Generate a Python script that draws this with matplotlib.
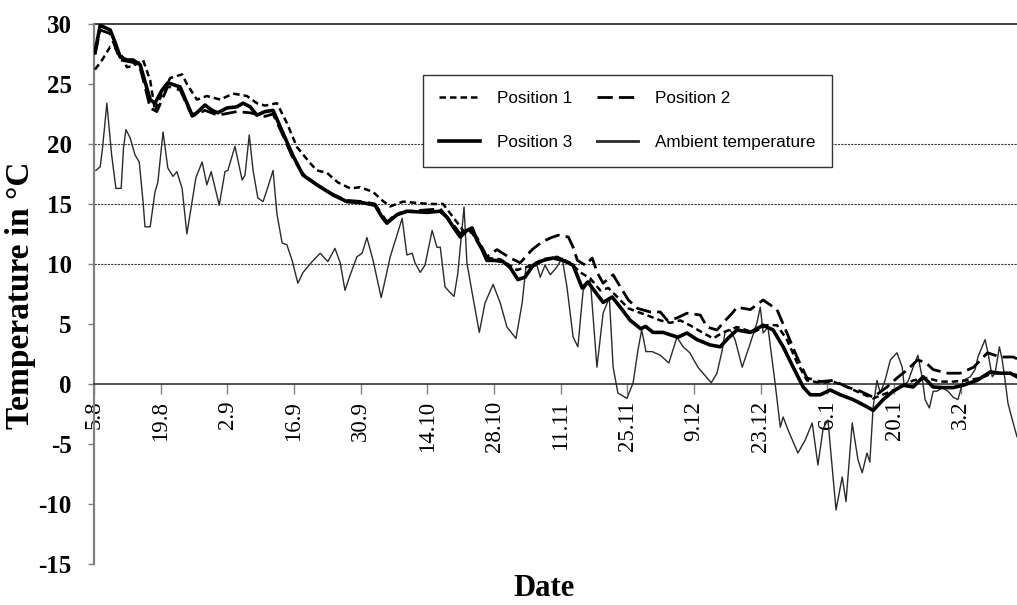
import matplotlib
matplotlib.use("Agg")
import matplotlib.pyplot as plt

plt.rcParams["axes.unicode_minus"] = False

# ---- data (x = days after 5 August) ----
tick_days = [0, 14, 28, 42, 56, 70, 84, 98, 112, 126, 140, 154, 168, 182]
tick_labels = ["5.8", "19.8", "2.9", "16.9", "30.9", "14.10", "28.10", "11.11",
               "25.11", "9.12", "23.12", "6.1", "20.1", "3.2"]
y_ticks = [-15, -10, -5, 0, 5, 10, 15, 20, 25, 30]

amb_days = [0.4, 1.3, 1.8, 2.7, 3.7, 4.6, 5.7, 6.2, 6.7, 7.6, 8.6, 9.5, 10.3, 10.7, 11.8,
            12.8, 13.4, 14.5, 15.5, 16.6, 17.4, 18.5, 19.5, 21.4, 22.7, 23.7, 24.6, 26.3,
            27.5, 28.1, 29.6, 31.1, 31.7, 32.6, 33.4, 34.4, 35.5, 36.5, 37.6, 38.4, 39.5,
            40.5, 41.6, 42.8, 43.9, 45.8, 47.5, 49.1, 50.6, 51.7, 52.7, 53.8, 55.2, 56.3,
            57.3, 58.6, 60.3, 62.2, 64.7, 65.7, 66.8, 67.4, 68.5, 69.5, 71.0, 72.0, 72.7,
            73.7, 74.8, 75.6, 76.4, 77.7, 78.3, 79.4, 80.9, 82.1, 83.8, 85.3, 86.7, 88.6,
            89.9, 90.7, 92.0, 93.0, 93.7, 94.7, 95.8, 97.2, 98.3, 99.3, 100.6, 101.6,
            102.7, 104.2, 105.6, 106.9, 108.2, 109.0, 110.0, 111.9, 113.2, 114.2, 115.0,
            115.9, 117.2, 118.9, 120.7, 122.4, 123.7, 125.1, 126.8, 129.6, 130.8, 131.9,
            132.5, 133.6, 134.6, 136.1, 137.8, 139.2, 139.9, 140.5, 141.5, 143.0, 144.1,
            144.7, 145.7, 147.8, 149.3, 150.8, 152.0, 153.1, 154.1, 155.8, 157.1, 157.9,
            159.2, 160.4, 161.3, 162.3, 162.9, 163.6, 164.4, 165.1, 166.1, 167.2, 168.6,
            169.7, 170.1, 170.9, 172.0, 173.0, 173.9, 174.5, 175.4, 176.2, 177.0, 178.1,
            179.3, 180.4, 181.4, 182.5, 184.0, 185.0, 185.6, 187.1, 187.7, 188.6, 189.2,
            190.1, 190.7, 191.3, 191.9, 193.0, 193.8]
amb_temp = [17.8, 18.1, 19.7, 23.4, 19.1, 16.3, 16.3, 19.7, 21.2, 20.5, 19.1, 18.5, 15.2, 13.1,
            13.1, 16.0, 16.8, 21.0, 18.0, 17.3, 17.7, 16.3, 12.5, 17.2, 18.5, 16.6, 17.7, 14.9,
            17.7, 17.8, 19.8, 17.0, 17.4, 20.75, 17.8, 15.5, 15.2, 16.4, 17.8, 14.2, 11.75,
            11.6, 10.3, 8.4, 9.3, 10.2, 10.9, 10.2, 11.3, 10.1, 7.8, 9.1, 10.6, 10.9,
            12.2, 10.3, 7.2, 10.6, 13.8, 10.75, 10.9, 10.1, 9.3, 9.9, 12.8, 11.4, 11.4,
            8.1, 7.6, 7.3, 9.25, 14.75, 10.1, 7.6, 4.3, 6.75, 8.3, 6.75, 4.75, 3.8,
            6.75, 9.75, 9.7, 9.9, 8.9, 9.9, 9.1, 9.75, 10.5, 8.1, 3.9, 3.1,
            7.8, 8.7, 1.4, 5.9, 7.2, 1.4, -0.75, -1.2, 0.1, 2.8, 4.5,
            2.7, 2.7, 2.4, 1.75, 3.9, 3.1, 2.6, 1.4, 0.1, 0.9, 2.8,
            4.3, 4.5, 3.7, 1.4, 3.4, 5.1, 6.4, 4.25, 4.75, 0.1, -3.6,
            -2.75, -3.8, -5.75, -4.7, -3.25, -6.75, -3.7, -3.0, -10.5, -7.75, -9.8,
            -3.25, -6.3, -7.4, -5.75, -6.5, -1.9, 0.3, -0.75, 0.3, 2.0, 2.6,
            1.4, -0.1, 0.2, 1.4, 2.4, 0.5, -1.3, -2.0, -0.6, -0.6, -0.3,
            -0.6, -1.1, -1.3, 0.3, 0.6, 1.2, 2.25, 3.7, 2.6, 0.6, 0.9,
            3.1, 2.0, 0.3, -1.6, -3.25, -4.4]

p1_days = [0.2, 1.7, 3.4, 4.4, 6.1, 6.9, 8.2, 10.3, 11.8, 12.8, 14.3, 16.0, 18.5, 19.5, 21.6,
           23.7, 26.5, 29.2, 32.1, 34.2, 35.9, 38.4, 40.5, 42.6, 45.4, 46.8, 48.9, 51.2,
           53.8, 55.9, 58.6, 60.5, 62.2, 64.9, 67.4, 70.6, 73.3, 75.4, 77.5, 79.4, 82.5,
           85.3, 88.8, 90.9, 94.3, 97.2, 100.0, 102.1, 104.2, 106.3, 108.0, 110.0, 112.2,
           114.2, 116.3, 118.9, 121.0, 123.1, 125.1, 127.9, 130.0, 132.1, 135.0, 138.4,
           141.3, 143.4, 145.5, 147.6, 149.7, 152.5, 155.2, 158.1, 160.9, 163.6, 166.5,
           169.3, 172.0, 174.9, 177.7, 180.4, 183.3, 186.1, 188.8, 191.7, 193.8]
p1_temp = [26.2, 27.0, 28.1, 28.0, 27.2, 26.4, 26.5, 27.0, 25.3, 22.8, 24.2, 25.5, 25.8, 25.0,
           23.7, 24.0, 23.7, 24.2, 24.0, 23.4, 23.2, 23.4, 21.75, 19.75, 18.4, 17.8, 17.6,
           16.8, 16.3, 16.4, 16.0, 15.3, 14.8, 15.2, 15.1, 15.0, 15.0, 13.9, 12.8, 12.6,
           10.5, 10.4, 9.5, 9.75, 10.4, 10.6, 10.1, 9.3, 8.8, 7.8, 8.0, 7.2, 6.3, 6.0, 5.7,
           5.3, 5.1, 5.3, 4.9, 4.25, 3.8, 4.3, 4.75, 4.3, 4.9, 4.9, 3.7, 1.8, 0.3, 0.1,
           0.2, -0.25, -0.75, -1.2, -0.75, -0.3, 0.3, 0.5, 0.2, 0.2, 0.3, 0.5, 0.9, 0.9,
           0.75]

p2_days = [0.2, 1.3, 3.4, 5.5, 8.2, 9.7, 10.7, 11.8, 13.2, 15.5, 18.1, 20.6, 23.3, 26.0, 30.0,
           32.8, 35.9, 37.6, 39.7, 41.8, 43.9, 46.8, 50.2, 53.1, 56.5, 59.0, 61.5, 63.6,
           66.4, 72.7, 75.4, 76.9, 78.3, 80.4, 82.5, 84.6, 87.4, 89.5, 92.0, 93.9, 96.0,
           97.5, 99.6, 100.6, 101.5, 103.2, 104.6, 105.7, 106.9, 109.0, 110.5, 112.2, 114.1,
           116.8, 118.9, 120.4, 122.4, 124.5, 127.3, 128.7, 130.8, 132.1, 134.0, 135.0,
           137.8, 140.5, 143.4, 145.5, 147.6, 149.7, 152.5, 155.2, 158.1, 160.9, 163.6,
           166.5, 168.6, 170.8, 172.9, 174.6, 176.2, 179.2, 181.9, 184.7, 187.6, 190.3,
           193.0, 193.8]
p2_temp = [27.5, 29.5, 29.2, 27.0, 26.8, 26.3, 24.8, 23.0, 22.7, 24.8, 24.5, 22.3, 22.8, 22.4,
           22.7, 22.6, 22.3, 22.5, 20.7, 18.8, 17.5, 16.6, 15.8, 15.3, 15.2, 15.0, 13.5, 14.2,
           14.4, 14.6, 13.3, 12.5, 13.0, 12.2, 10.6, 11.2, 10.5, 10.1, 11.2, 11.8, 12.2,
           12.4, 12.25, 11.4, 10.3, 9.9, 10.5, 9.25, 8.4, 9.1, 8.1, 7.0, 6.3, 6.0, 6.0,
           5.3, 5.5, 5.9, 5.75, 4.75, 4.5, 5.1, 5.9, 6.4, 6.2, 7.0, 6.2, 4.25, 2.25, 0.5,
           0.2, 0.3, -0.25, -0.6, -1.1, -0.25, 0.5, 1.2, 2.0, 1.8, 1.2, 0.9, 0.9, 1.4,
           2.6, 2.25, 2.25, 2.1]

p3_days = [0.2, 1.3, 2.3, 3.4, 4.4, 5.5, 6.9, 8.2, 9.7, 10.7, 11.8, 12.8, 14.3, 15.5, 17.0,
           18.1, 19.1, 20.6, 21.6, 23.3, 24.8, 26.0, 27.9, 30.0, 31.3, 32.8, 34.2, 35.9,
           37.6, 39.7, 41.8, 43.9, 46.8, 50.2, 53.1, 56.5, 59.0, 60.5, 61.5, 63.6, 65.7,
           69.9, 72.7, 74.1, 75.4, 76.9, 78.3, 79.4, 80.4, 81.5, 82.5, 84.2, 85.9, 87.4,
           89.0, 90.5, 92.2, 94.3, 96.4, 98.5, 100.6, 102.5, 103.7, 105.4, 106.9, 108.8,
           110.5, 112.6, 114.8, 115.8, 117.4, 119.5, 121.0, 122.6, 124.5, 126.6, 129.4,
           131.5, 133.1, 135.0, 137.8, 140.5, 142.6, 144.7, 146.8, 148.9, 150.4, 152.5,
           154.6, 156.7, 159.4, 162.3, 163.6, 165.7, 167.8, 169.9, 172.0, 174.1, 176.2,
           178.3, 180.4, 182.5, 185.4, 188.2, 190.3, 192.4, 193.8]
p3_temp = [27.6, 29.9, 29.7, 29.5, 28.5, 27.25, 27.0, 27.0, 26.6, 25.2, 23.7, 23.4, 24.5, 25.1,
           24.9, 24.75, 23.8, 22.4, 22.6, 23.25, 22.8, 22.6, 23.0, 23.1, 23.4, 23.1, 22.4,
           22.7, 22.8, 20.9, 19.0, 17.4, 16.6, 15.75, 15.2, 15.1, 14.9, 13.9, 13.4, 14.1,
           14.4, 14.3, 14.4, 13.9, 13.1, 12.25, 12.8, 13.0, 12.0, 11.2, 10.3, 10.3, 10.2,
           9.7, 8.7, 8.9, 9.9, 10.3, 10.5, 10.3, 9.9, 8.0, 8.5, 7.6, 6.8, 7.25, 6.4, 5.3,
           4.6, 4.8, 4.3, 4.3, 4.1, 3.9, 4.25, 3.7, 3.25, 3.1, 3.8, 4.5, 4.3, 4.9, 4.5,
           3.1, 1.4, -0.25, -0.9, -0.9, -0.5, -0.9, -1.3, -1.9, -2.2, -1.3, -0.6, -0.1,
           -0.25, 0.6, -0.25, -0.3, -0.3, -0.1, 0.3, 1.0, 0.9, 0.9, 0.6]

series_labels = ["Position 1", "Position 2", "Position 3", "Ambient temperature"]

# ---- figure ----
fig = plt.figure(figsize=(10.17, 6.05), dpi=100)
ax = fig.add_axes([94 / 1017, 41 / 605, 923 / 1017, 540 / 605])

ax.set_xlim(0, 193.8)
ax.set_ylim(-15, 30)

for yv in (10, 15, 20):
    ax.axhline(yv, color="#3a3a3a", lw=0.8, ls=(0, (2, 1)), zorder=1)
ax.axhline(30, color="#222222", lw=1.2, zorder=1, clip_on=False)

l_amb, = ax.plot(amb_days, amb_temp, color="#2a2a2a", lw=1.0, zorder=3,
                 solid_joinstyle="round")
l_p1, = ax.plot(p1_days, p1_temp, color="black", lw=1.8, ls=(0, (2.6, 1.6)), zorder=4)
l_p2, = ax.plot(p2_days, p2_temp, color="black", lw=2.0, ls=(0, (5.5, 2.2)), zorder=4)
l_p3, = ax.plot(p3_days, p3_temp, color="black", lw=2.6, zorder=5,
                solid_joinstyle="round")

serif = ["Liberation Serif", "DejaVu Serif"]

ax.spines["right"].set_visible(False)
ax.spines["top"].set_visible(False)
ax.spines["left"].set_color("#808080")
ax.spines["left"].set_linewidth(1.6)
ax.spines["bottom"].set_position(("data", 0))
ax.spines["bottom"].set_color("#333333")
ax.spines["bottom"].set_linewidth(1.2)

ax.set_xticks(tick_days)
ax.set_xticklabels(tick_labels, rotation=90, family=serif, fontsize=16.5)
ax.tick_params(axis="x", direction="out", length=7, width=1, color="#808080", pad=5)
ax.set_yticks(y_ticks)
ax.set_yticklabels([str(v) for v in y_ticks], family=serif, fontsize=18, fontweight="bold")
ax.tick_params(axis="y", direction="out", length=4, width=1, color="#808080", pad=12)

fig.text(21 / 1017, 1 - 295 / 605, "Temperature in °C", rotation=90, ha="center",
         va="center", family=serif, fontsize=24, fontweight="bold")
fig.text(544 / 1017, 1 - 589 / 605, "Date", ha="center", va="center", family=serif,
         fontsize=22, fontweight="bold")

handles = [l_p1, l_p3, l_p2, l_amb]
labels = [series_labels[0], series_labels[2], series_labels[1], series_labels[3]]
leg = ax.legend(handles, labels, ncol=2, loc="upper left",
                bbox_to_anchor=((423 - 94) / 923, 1 - (75 - 24) / 540),
                borderaxespad=0, frameon=True, fancybox=False, shadow=False,
                prop={"family": ["Liberation Sans", "DejaVu Sans"], "size": 12.3},
                handlelength=2.4, handletextpad=1.0, columnspacing=1.45,
                labelspacing=1.7, borderpad=0.95)
leg.get_frame().set_edgecolor("#333333")
leg.get_frame().set_linewidth(1.0)
leg.get_frame().set_alpha(1)
leg.set_zorder(10)
for ln in leg.get_lines():
    if ln.get_linewidth() < 1.5:
        ln.set_linewidth(2.0)

fig.savefig("out.png", dpi=100)
